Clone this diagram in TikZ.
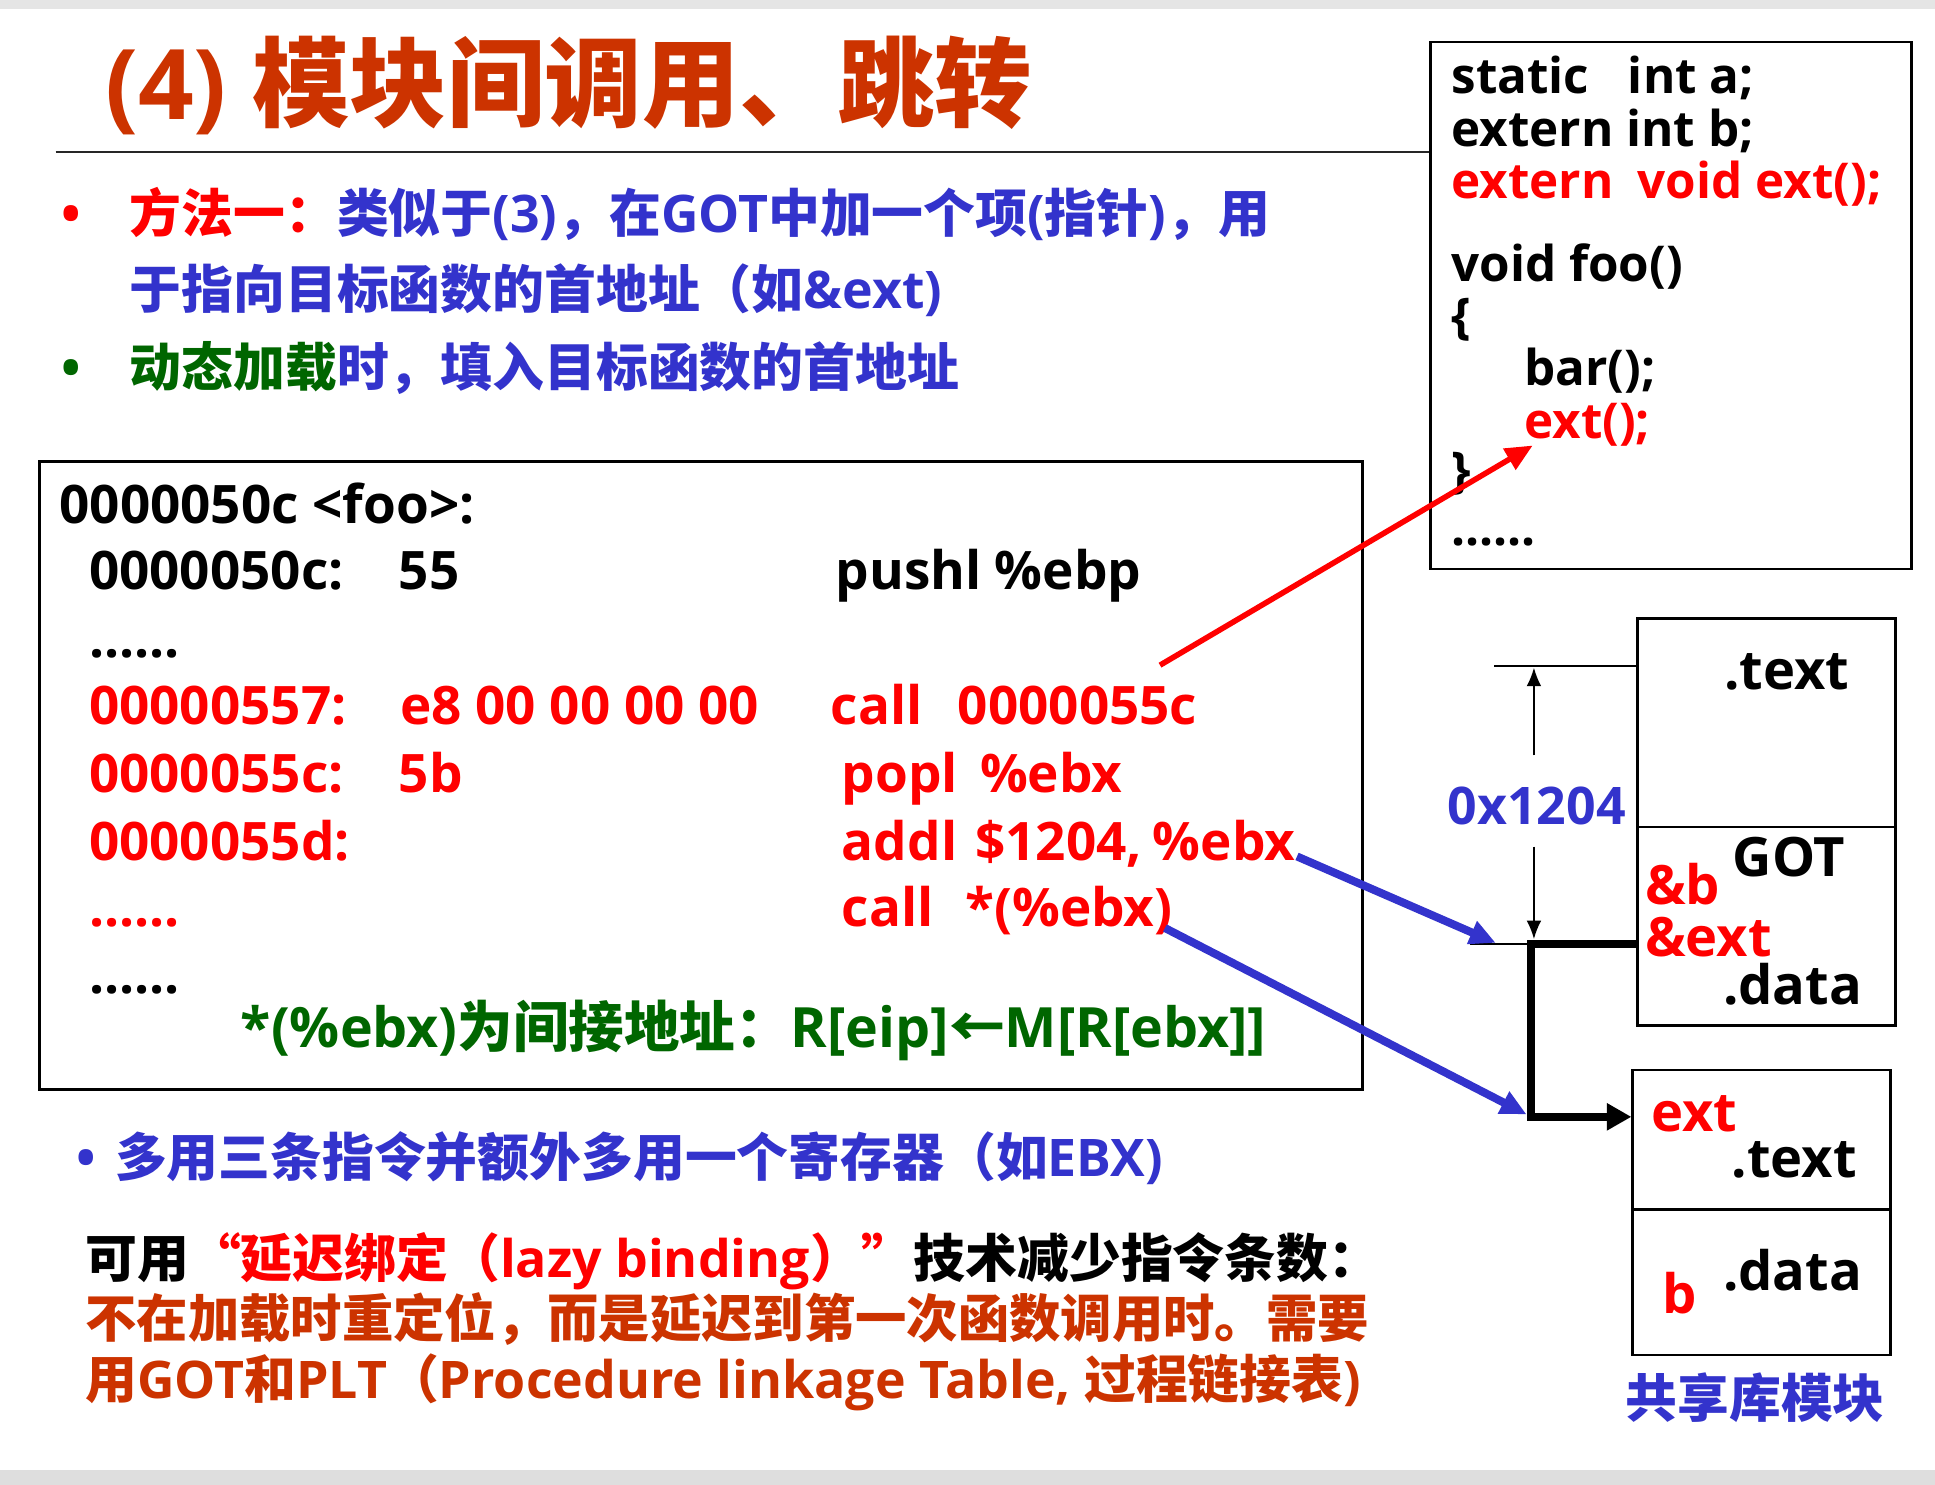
\documentclass[tikz,border=0pt]{standalone}
\usepackage{fontspec}
\setmainfont{Open Sans}
\newfontfamily\cjkf{Noto Sans CJK SC}
\newcommand\zh[1]{{\cjkf #1}}
\usetikzlibrary{arrows.meta}
\definecolor{tred}{HTML}{CC3300}
\definecolor{tblue}{HTML}{3333CC}
\definecolor{tgreen}{HTML}{006600}
\definecolor{pred}{HTML}{FF0000}
\newcommand\fsz[1]{\fontsize{#1}{#1}\selectfont\bfseries}
\begin{document}
\begin{tikzpicture}[x=1pt,y=-1pt,
  t/.style={anchor=base west, inner sep=0pt},
  body/.style={t, font=\fsz{42}},
  code/.style={t, font=\fsz{43}},
  src/.style={t, font=\fsz{40}},
  mem/.style={t, font=\fsz{44}},
  box/.style={draw=black, line width=2pt, inner sep=0pt, anchor=north west},
  thinline/.style={line width=1.5pt, black},
  dimarrow/.style={line width=1.5pt, black, -{Latex[length=15pt,width=12pt]}},
  bluearrow/.style={line width=6.5pt, tblue, -{Triangle[length=21pt,width=19pt]}},
  redarrow/.style={line width=4.5pt, pred, -{Triangle[length=22pt,width=19pt]}},
  thickline/.style={line width=6.5pt, black}
]
\useasboundingbox (0,0) rectangle (1568,1203);
\fill[white] (0,0) rectangle (1568,1203);
\fill[black!10] (0,0) rectangle (1568,7);
\fill[black!13] (0,1191) rectangle (1568,1203);

% title
\node[t, font=\fsz{79}, text=tred] (title) at (85,97) {(4) \zh{模块间调用、跳转}};

% source box
\node[box, minimum width=390pt, minimum height=427pt] (srcbox) at (1158,33) {};
\coordinate (tl) at (45,123);
\draw[line width=2pt, black!85] (tl) -- (tl -| srcbox.west);

\node[src] (s1a) at (1176,76) {static};
\node[src] (s1b) at (1319,76) {int a;};
\node[src] (s2) at (1176,119) {extern int b;};
\node[src, text=pred] (s3a) at (1176,161) {extern};
\node[src, text=pred] (s3b) at (1327,161) {void ext();};
\node[src] (s4) at (1176,228) {void foo()};
\node[src] (s5) at (1176,270) {\{};
\node[src] (s6) at (1235,312) {bar();};
\node[src, text=pred] (s7) at (1235,355) {ext();};
\node[src] (s8) at (1176,395) {\}};
\node[src] (s9) at (1176,442) {......};

% bullets
\node[body, text=pred] (b1) at (50,188) {•};
\node[body] (l1) at (105,188) {\textcolor{pred}{\zh{方法一：}}\textcolor{tblue}{\zh{类似于}(3)\zh{，在}GOT\zh{中加一个项}(\zh{指针})\zh{，用}}};
\node[body, text=tblue] (l2) at (105,250) {\zh{于指向目标函数的首地址（如}\&ext)};
\node[body, text=tgreen] (b2) at (50,313) {•};
\node[body] (l3) at (105,313) {\textcolor{tgreen}{\zh{动态加载}}\textcolor{tblue}{\zh{时，填入目标函数的首地址}}};

% assembly box
\node[box, minimum width=1072pt, minimum height=509pt] (asm) at (31,373) {};
\node[code] (c0) at (48,424) {0000050c <foo>:};
\node[code] (c1a) at (72,478) {0000050c:};
\node[code] (c1b) at (323,478) {55};
\node[code] (c1c) at (677,478) {pushl};
\node[code] (c1d) at (806,478) {\%ebp};
\node[code] (c2) at (72,533) {......};
\node[code, text=pred] (c3a) at (72,587) {00000557:};
\node[code, text=pred] (c3b) at (324,587) {e8 00 00 00 00};
\node[code, text=pred] (c3c) at (673,587) {call};
\node[code, text=pred] (c3d) at (776,587) {0000055c};
\node[code, text=pred] (c4a) at (72,642) {0000055c:};
\node[code, text=pred] (c4b) at (323,642) {5b};
\node[code, text=pred] (c4c) at (682,642) {popl};
\node[code, text=pred] (c4d) at (794,642) {\%ebx};
\node[code, text=pred] (c5a) at (72,697) {0000055d:};
\node[code, text=pred] (c5c) at (682,697) {addl};
\node[code, text=pred] (c5d) at (790,697) {\$1204,};
\node[code, text=pred] (c5e) at (934,697) {\%ebx};
\node[code, text=pred] (c6a) at (72,751) {......};
\node[code, text=pred] (c6c) at (682,751) {call};
\node[code, text=pred] (c6d) at (782,751) {*(\%ebx)};
\node[code] (c7) at (72,805) {......};
\node[t, font=\fsz{45}, text=tgreen] (c8) at (195,849) {*(\%ebx)\zh{为间接地址：}R[eip]\zh{←}M[R[ebx]]};

% lower texts
\node[body, text=tblue] (b3) at (62,953) {•};
\node[body, text=tblue] (l4) at (93,953) {\zh{多用三条指令并额外多用一个寄存器（如}EBX)};
\node[body] (l5) at (69,1035) {\zh{可用}\textcolor{pred}{\zh{“延迟绑定（}lazy binding\zh{）”}}\zh{技术减少指令条数：}};
\node[t, font=\fsz{41.6}, text=tred] (l6) at (69,1084) {\zh{不在加载时重定位，而是延迟到第一次函数调用时。需要}};
\node[body, text=tred] (l7) at (69,1133) {\zh{用}GOT\zh{和}PLT\zh{（}Procedure linkage Table, \zh{过程链接表})};

% memory boxes
\node[box, minimum width=209pt, minimum height=169pt] (textA) at (1326,500) {};
\node[box, minimum width=209pt, minimum height=161pt] (gotA) at (1326,669) {};
\node[box, minimum width=209pt, minimum height=113pt] (extT) at (1322,866) {};
\node[box, minimum width=209pt, minimum height=118pt] (dataB) at (1322,979) {};

\node[mem] (m1) at (1397,559) {.text};
\node[mem] (m2) at (1404,710) {GOT};
\node[mem, text=pred] (m3) at (1333,733) {\&b};
\node[mem, text=pred] (m4) at (1333,775) {\&ext};
\node[mem] (m5) at (1396,814) {.data};
\node[mem, text=pred] (m6) at (1338,917) {ext};
\node[mem] (m7) at (1403,954) {.text};
\node[mem, text=pred] (m8) at (1347,1064) {b};
\node[mem] (m9) at (1396,1046) {.data};
\node[body, text=tblue] (lib) at (1317,1149) {\zh{共享库模块}};
\node[body, text=tblue] (off) at (1173,668) {0x1204};

% dimension lines
\coordinate (ta) at (1211,540);
\draw[thinline] (ta) -- (ta -| textA.west);
\coordinate (ua) at (1243,612);
\coordinate (ub) at (1243,541);
\draw[dimarrow] (ua) -- (ub);
\coordinate (da) at (1243,686);
\coordinate (db) at (1243,761);
\draw[dimarrow] (da) -- (db);
\coordinate (tb) at (1191,765);
\coordinate (j1) at (1244,765);
\draw[thinline] (tb) -- (j1);

% thick pointer
\coordinate (gext) at (1326,765);
\coordinate (j2) at (1244,905);
\draw[thickline] (gext) -- ([xshift=-3.25pt]j1) -- ([xshift=-3.25pt]j2);
\draw[thickline, -{Triangle[length=20pt,width=21pt]}] ([xshift=-6.5pt]j2) -- (j2 -| extT.west);

% arrows
\coordinate (ra) at (940,539);
\coordinate (rb) at (1242,361);
\draw[redarrow] (ra) -- (rb);
\coordinate (ba1) at (1051,694);
\coordinate (bb1) at (1212,764);
\draw[bluearrow] (ba1) -- (bb1);
\coordinate (ba2) at (944,752);
\coordinate (bb2) at (1237,903);
\draw[bluearrow] (ba2) -- (bb2);
\end{tikzpicture}
\end{document}
